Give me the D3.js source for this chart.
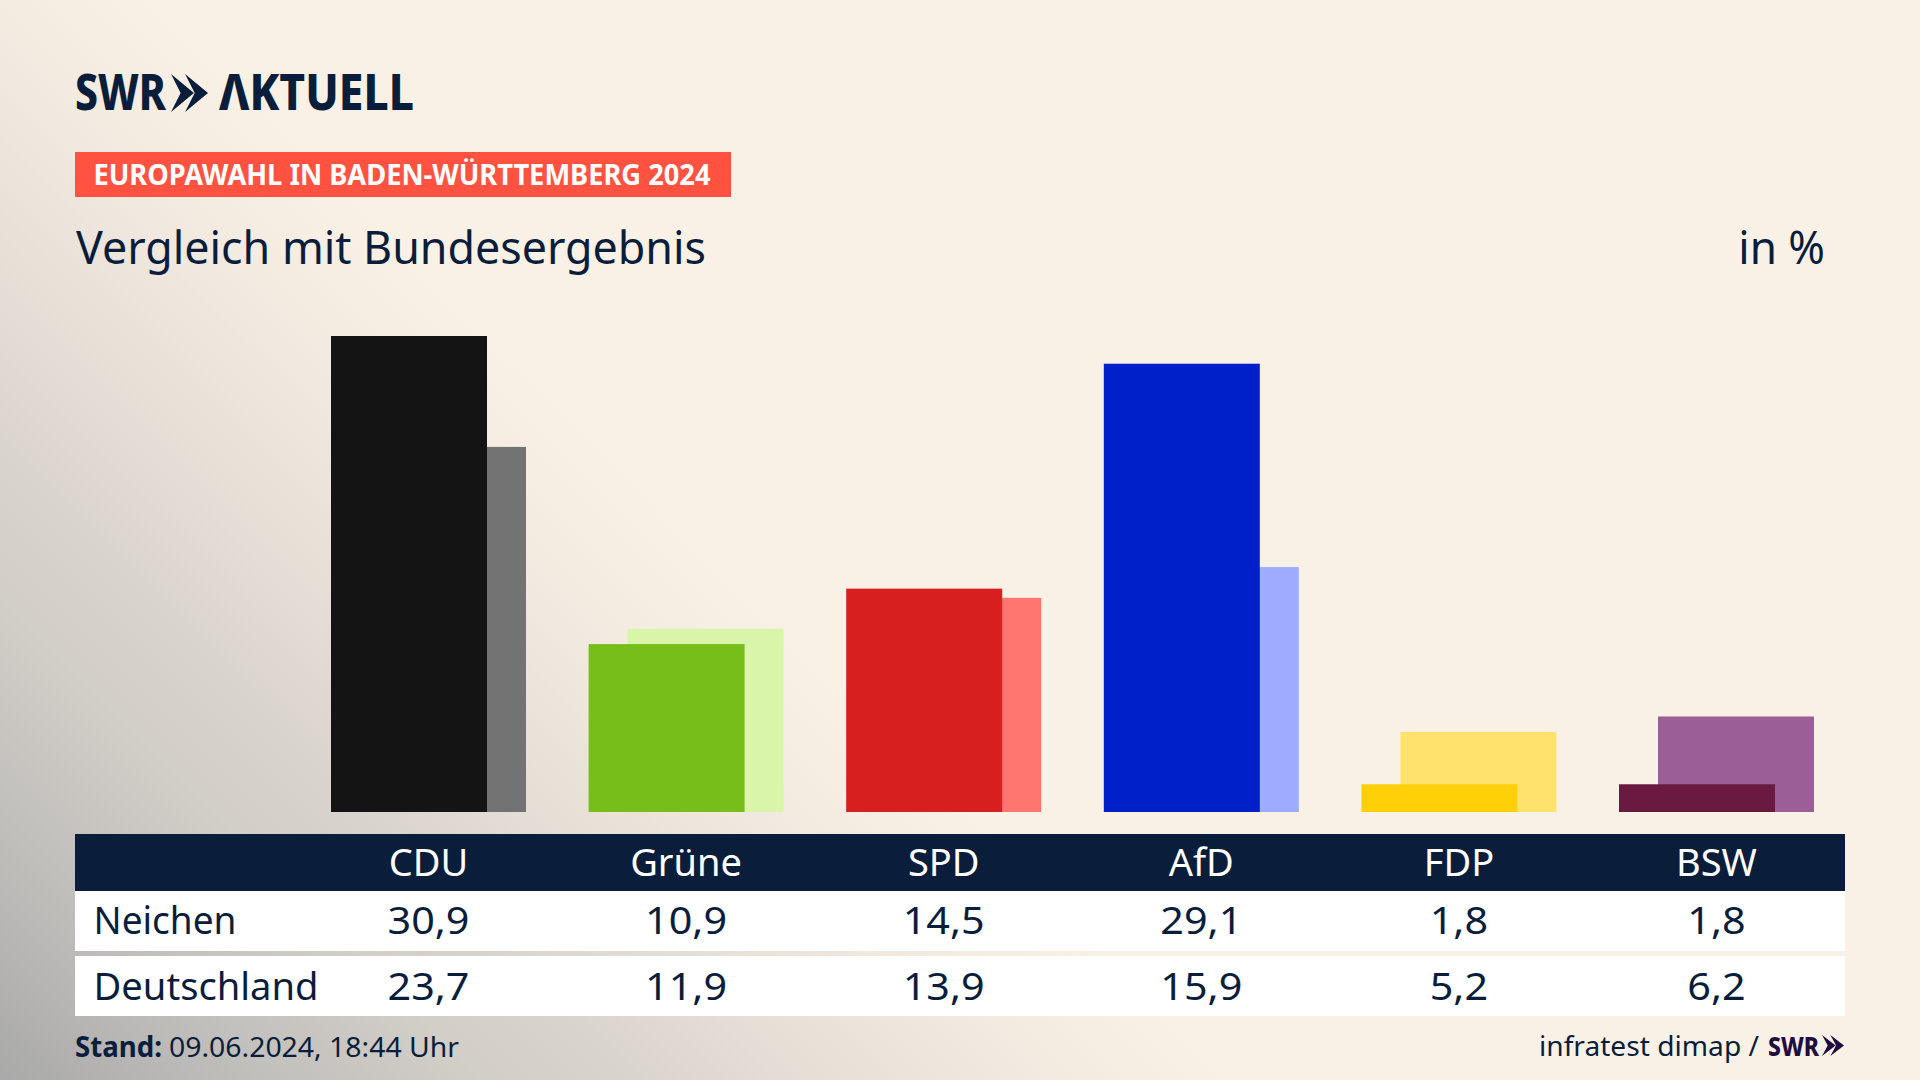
<!DOCTYPE html>
<html>
<head>
<meta charset="utf-8">
<script src="https://cdn.jsdelivr.net/npm/d3@7"></script>
<style>
  html, body { margin: 0; padding: 0; background: #faf1e6; overflow: hidden; }
  text { font-family: "Noto Sans", sans-serif; fill: #0a1e3c; }
</style>
</head>
<body>
<div id="chart"></div>
<script>
var parties = ["CDU", "Grüne", "SPD", "AfD", "FDP", "BSW"];
var neichen = [30.9, 10.9, 14.5, 29.1, 1.8, 1.8];
var deutschland = [23.7, 11.9, 13.9, 15.9, 5.2, 6.2];
var mainColors = ["#141414", "#78be1a", "#d81f1f", "#0021c9", "#ffd008", "#6a1a40"];
var backColors = ["#737373", "#d8f5aa", "#ff7570", "#9eacff", "#ffe26e", "#9b5e96"];
var rowNames = ["Neichen", "Deutschland"];

var svgWidth = 1920;
var svgHeight = 1080;
var navy = "#0a1e3c";

var svg = d3.select("#chart")
  .append("svg")
  .attr("width", svgWidth)
  .attr("height", svgHeight)
  .style("display", "block");

// background fades to grey towards the bottom left
var grad = svg.append("defs").append("linearGradient")
  .attr("id", "bg")
  .attr("gradientUnits", "userSpaceOnUse")
  .attr("x1", 0).attr("y1", 1080)
  .attr("x2", 620).attr("y2", 460);
[[0, "#a9a9a9"], [0.2, "#c0bebb"], [0.39, "#d2cec8"], [0.5, "#d8d3cc"], [0.63, "#e4ddd5"], [0.8, "#f0e8de"], [1, "#faf1e6"]]
  .forEach(function(s) {
    grad.append("stop").attr("offset", s[0]).attr("stop-color", s[1]);
  });

svg.append("rect")
  .attr("width", svgWidth)
  .attr("height", svgHeight)
  .attr("fill", "url(#bg)");

// squeeze text horizontally to a wanted width, the real font is narrower than Noto
function fit(sel, w) {
  sel.each(function() {
    var len = w < 2 ? this.getComputedTextLength() * w : w;
    d3.select(this).attr("textLength", len).attr("lengthAdjust", "spacingAndGlyphs");
  });
  return sel;
}

function label(x, y, str, size, weight, anchor) {
  return svg.append("text")
    .attr("x", x)
    .attr("y", y)
    .attr("font-size", size)
    .attr("font-weight", weight || 400)
    .attr("text-anchor", anchor || "start")
    .text(str);
}

function chevrons(x, y, w, h, color) {
  var cw = w * 0.62;
  var shift = w - cw;
  var shape = d3.path();
  [0, shift].forEach(function(dx) {
    shape.moveTo(x + dx, y);
    shape.lineTo(x + dx + cw, y + h / 2);
    shape.lineTo(x + dx, y + h);
    shape.lineTo(x + dx + cw * 0.42, y + h / 2);
    shape.closePath();
  });
  svg.append("path").attr("d", shape.toString()).attr("fill", color);
}

// logo
fit(label(75, 110, "SWR", 49, 800), 91);
chevrons(171, 74, 37, 38, navy);
fit(label(219, 110, "ΛKTUELL", 49, 800), 195);

// heading
svg.append("rect")
  .attr("x", 75).attr("y", 152)
  .attr("width", 656).attr("height", 45)
  .attr("fill", "#ff5240");
fit(label(93.5, 185, "EUROPAWAHL IN BADEN-WÜRTTEMBERG 2024", 28, 700), 617)
  .style("fill", "#fff");
fit(label(76, 264, "Vergleich mit Bundesergebnis", 45), 630);
fit(label(1825, 264, "in %", 45, 400, "end"), 0.98);

// bars
var x = d3.scaleBand()
  .domain(parties)
  .range([331, 1814])
  .paddingInner(0.243);

var y = d3.scaleLinear()
  .domain([0, 30.9])
  .range([812, 336]);

var barWidth = x.bandwidth() * 0.8;
var barShift = x.bandwidth() * 0.2;

svg.selectAll(".back")
  .data(parties)
  .enter()
  .append("rect")
  .attr("class", "back")
  .attr("x", d => x(d) + barShift)
  .attr("y", (d, i) => y(deutschland[i]))
  .attr("width", barWidth)
  .attr("height", (d, i) => y(0) - y(deutschland[i]))
  .attr("fill", (d, i) => backColors[i]);

svg.selectAll(".main")
  .data(parties)
  .enter()
  .append("rect")
  .attr("class", "main")
  .attr("x", d => x(d))
  .attr("y", (d, i) => y(neichen[i]))
  .attr("width", barWidth)
  .attr("height", (d, i) => y(0) - y(neichen[i]))
  .attr("fill", (d, i) => mainColors[i]);

// table
svg.append("rect").attr("x", 75).attr("y", 834).attr("width", 1770).attr("height", 57).attr("fill", navy);
svg.append("rect").attr("x", 75).attr("y", 891).attr("width", 1770).attr("height", 60).attr("fill", "#fff");
svg.append("rect").attr("x", 75).attr("y", 956).attr("width", 1770).attr("height", 60).attr("fill", "#fff");

var colCenter = d => x(d) + x.bandwidth() / 2;

parties.forEach(function(p, i) {
  fit(label(colCenter(p), 876, p, 38, 400, "middle"), 1).style("fill", "#fff");
  fit(label(colCenter(p), 934, String(neichen[i]).replace(".", ","), 39, 400, "middle"), 1.06);
  fit(label(colCenter(p), 1000, String(deutschland[i]).replace(".", ","), 39, 400, "middle"), 1.06);
});

fit(label(93.5, 934, rowNames[0], 38), 143);
fit(label(93.5, 1000, rowNames[1], 38), 225);

// footer
fit(label(75, 1057, "Stand:", 28, 700), 87);
fit(label(169, 1057, "09.06.2024, 18:44 Uhr", 28), 290);
fit(label(1539, 1056, "infratest dimap /", 28), 220);
fit(label(1768, 1056, "SWR", 27, 800), 51).style("fill", "#1e0f40");
chevrons(1822, 1035, 22, 21, "#1e0f40");
</script>
</body>
</html>
